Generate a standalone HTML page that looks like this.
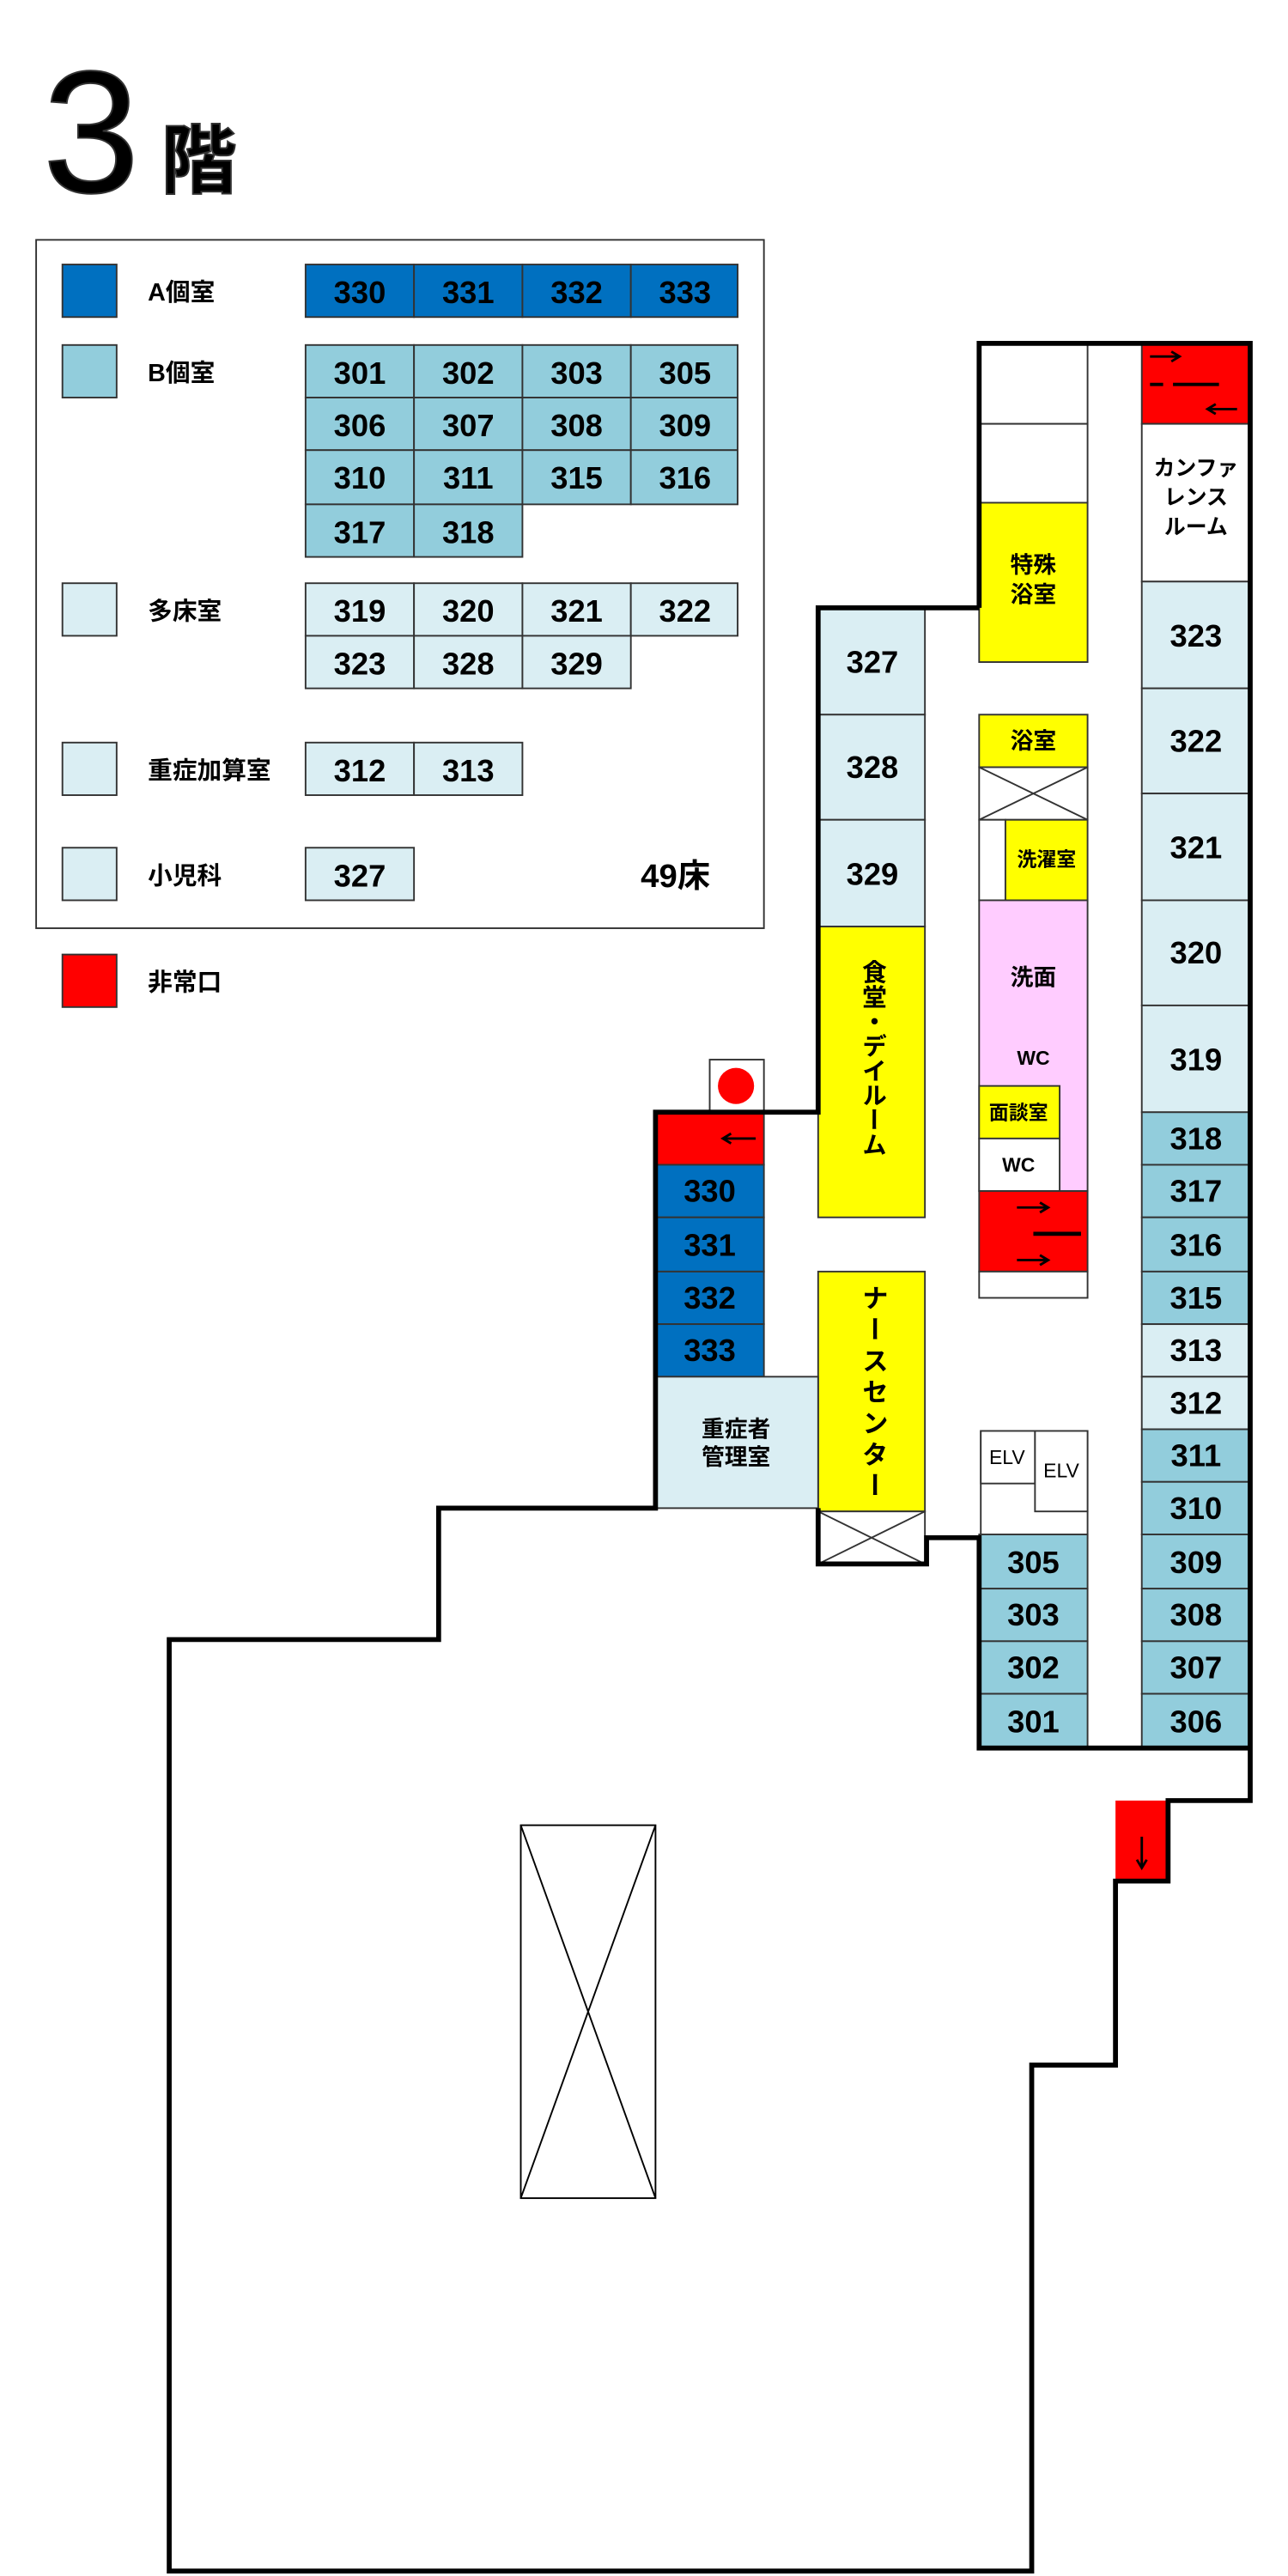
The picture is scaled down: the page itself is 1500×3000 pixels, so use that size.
<!DOCTYPE html>
<html><head><meta charset="utf-8"><style>
html,body{margin:0;padding:0;background:#fff}
svg{display:block}
text{font-family:"Liberation Sans","Noto Sans CJK JP",sans-serif;font-weight:bold;fill:#000}
.n{font-size:19px;text-anchor:middle;dominant-baseline:central}
.j{font-size:14px;text-anchor:middle;dominant-baseline:central}
.v{font-size:15px;writing-mode:vertical-rl;text-anchor:start}
</style></head><body>
<svg width="1500" height="3000" viewBox="0 0 784 1568" xmlns="http://www.w3.org/2000/svg">
<g stroke="#333" stroke-width="1">
<!-- Title -->
<text x="26" y="117" style="font-size:106px;font-weight:normal">3</text>
<text x="98" y="114" style="font-size:46px">階</text>

<!-- Legend -->
<rect x="22" y="146" width="443" height="419" fill="#fff"/>
<rect x="38" y="161" width="33" height="32" fill="#0070c0"/>
<rect x="38" y="210" width="33" height="32" fill="#92cddc"/>
<rect x="38" y="355" width="33" height="32" fill="#daeef3"/>
<rect x="38" y="452" width="33" height="32" fill="#daeef3"/>
<rect x="38" y="516" width="33" height="32" fill="#daeef3"/>
<rect x="38" y="581" width="33" height="32" fill="#ff0000"/>
</g>
<g class="lab" style="font-size:15px">
<text x="90" y="183" style="font-size:15px">A個室</text>
<text x="90" y="232" style="font-size:15px">B個室</text>
<text x="90" y="377" style="font-size:15px">多床室</text>
<text x="90" y="474" style="font-size:15px">重症加算室</text>
<text x="90" y="538" style="font-size:15px">小児科</text>
<text x="90" y="603" style="font-size:15px">非常口</text>
<text x="390" y="540" style="font-size:20px">49床</text>
</g>
<g stroke="#333" stroke-width="1">
<rect x="186" y="161" width="66" height="32" fill="#0070c0"/><rect x="252" y="161" width="66" height="32" fill="#0070c0"/><rect x="318" y="161" width="66" height="32" fill="#0070c0"/><rect x="384" y="161" width="65" height="32" fill="#0070c0"/>
<rect x="186" y="210" width="66" height="32" fill="#92cddc"/><rect x="252" y="210" width="66" height="32" fill="#92cddc"/><rect x="318" y="210" width="66" height="32" fill="#92cddc"/><rect x="384" y="210" width="65" height="32" fill="#92cddc"/>
<rect x="186" y="242" width="66" height="32" fill="#92cddc"/><rect x="252" y="242" width="66" height="32" fill="#92cddc"/><rect x="318" y="242" width="66" height="32" fill="#92cddc"/><rect x="384" y="242" width="65" height="32" fill="#92cddc"/>
<rect x="186" y="274" width="66" height="33" fill="#92cddc"/><rect x="252" y="274" width="66" height="33" fill="#92cddc"/><rect x="318" y="274" width="66" height="33" fill="#92cddc"/><rect x="384" y="274" width="65" height="33" fill="#92cddc"/>
<rect x="186" y="307" width="66" height="32" fill="#92cddc"/><rect x="252" y="307" width="66" height="32" fill="#92cddc"/>
<rect x="186" y="355" width="66" height="32" fill="#daeef3"/><rect x="252" y="355" width="66" height="32" fill="#daeef3"/><rect x="318" y="355" width="66" height="32" fill="#daeef3"/><rect x="384" y="355" width="65" height="32" fill="#daeef3"/>
<rect x="186" y="387" width="66" height="32" fill="#daeef3"/><rect x="252" y="387" width="66" height="32" fill="#daeef3"/><rect x="318" y="387" width="66" height="32" fill="#daeef3"/>
<rect x="186" y="452" width="66" height="32" fill="#daeef3"/><rect x="252" y="452" width="66" height="32" fill="#daeef3"/>
<rect x="186" y="516" width="66" height="32" fill="#daeef3"/>
</g>
<g>
<text class="n" x="219" y="178">330</text><text class="n" x="285" y="178">331</text><text class="n" x="351" y="178">332</text><text class="n" x="417" y="178">333</text>
<text class="n" x="219" y="227">301</text><text class="n" x="285" y="227">302</text><text class="n" x="351" y="227">303</text><text class="n" x="417" y="227">305</text>
<text class="n" x="219" y="259">306</text><text class="n" x="285" y="259">307</text><text class="n" x="351" y="259">308</text><text class="n" x="417" y="259">309</text>
<text class="n" x="219" y="291">310</text><text class="n" x="285" y="291">311</text><text class="n" x="351" y="291">315</text><text class="n" x="417" y="291">316</text>
<text class="n" x="219" y="324">317</text><text class="n" x="285" y="324">318</text>
<text class="n" x="219" y="372">319</text><text class="n" x="285" y="372">320</text><text class="n" x="351" y="372">321</text><text class="n" x="417" y="372">322</text>
<text class="n" x="219" y="404">323</text><text class="n" x="285" y="404">328</text><text class="n" x="351" y="404">329</text>
<text class="n" x="219" y="469">312</text><text class="n" x="285" y="469">313</text>
<text class="n" x="219" y="533">327</text>
</g>

<!-- Plan rooms -->
<g stroke="#333" stroke-width="1">
<!-- right column -->
<rect x="695" y="209" width="65" height="49" fill="#ff0000"/>
<rect x="695" y="258" width="65" height="96" fill="#fff"/>
<rect x="695" y="354" width="65" height="65" fill="#daeef3"/>
<rect x="695" y="419" width="65" height="64" fill="#daeef3"/>
<rect x="695" y="483" width="65" height="65" fill="#daeef3"/>
<rect x="695" y="548" width="65" height="64" fill="#daeef3"/>
<rect x="695" y="612" width="65" height="65" fill="#daeef3"/>
<rect x="695" y="677" width="65" height="32" fill="#92cddc"/>
<rect x="695" y="709" width="65" height="32" fill="#92cddc"/>
<rect x="695" y="741" width="65" height="33" fill="#92cddc"/>
<rect x="695" y="774" width="65" height="32" fill="#92cddc"/>
<rect x="695" y="806" width="65" height="32" fill="#daeef3"/>
<rect x="695" y="838" width="65" height="32" fill="#daeef3"/>
<rect x="695" y="870" width="65" height="32" fill="#92cddc"/>
<rect x="695" y="902" width="65" height="32" fill="#92cddc"/>
<rect x="695" y="934" width="65" height="33" fill="#92cddc"/>
<rect x="695" y="967" width="65" height="32" fill="#92cddc"/>
<rect x="695" y="999" width="65" height="32" fill="#92cddc"/>
<rect x="695" y="1031" width="65" height="33" fill="#92cddc"/>
<!-- second column -->
<rect x="596" y="209" width="66" height="49" fill="#fff"/>
<rect x="596" y="258" width="66" height="48" fill="#fff"/>
<rect x="596" y="306" width="66" height="97" fill="#ffff00"/>
<rect x="596" y="435" width="66" height="32" fill="#ffff00"/>
<rect x="596" y="467" width="66" height="32" fill="#fff"/>
<line x1="596" y1="467" x2="662" y2="499"/><line x1="662" y1="467" x2="596" y2="499"/>
<rect x="596" y="499" width="16" height="49" fill="#fff"/>
<rect x="612" y="499" width="50" height="49" fill="#ffff00"/>
<rect x="596" y="548" width="66" height="177" fill="#ffccff"/>
<rect x="596" y="661" width="49" height="32" fill="#ffff00"/>
<rect x="596" y="693" width="49" height="32" fill="#fff"/>
<rect x="596" y="725" width="66" height="49" fill="#ff0000"/>
<rect x="596" y="774" width="66" height="16" fill="#fff"/>
<rect x="597" y="871" width="65" height="65" fill="#fff"/>
<rect x="597" y="871" width="33" height="32" fill="#fff"/>
<rect x="630" y="871" width="32" height="49" fill="#fff"/>
<rect x="596" y="934" width="66" height="33" fill="#92cddc"/>
<rect x="596" y="967" width="66" height="32" fill="#92cddc"/>
<rect x="596" y="999" width="66" height="32" fill="#92cddc"/>
<rect x="596" y="1031" width="66" height="33" fill="#92cddc"/>
<!-- middle column -->
<rect x="498" y="370" width="65" height="65" fill="#daeef3"/>
<rect x="498" y="435" width="65" height="64" fill="#daeef3"/>
<rect x="498" y="499" width="65" height="65" fill="#daeef3"/>
<rect x="498" y="564" width="65" height="177" fill="#ffff00"/>
<rect x="498" y="774" width="65" height="146" fill="#ffff00"/>
<rect x="498" y="920" width="65" height="32" fill="#fff"/>
<line x1="498" y1="920" x2="563" y2="952"/><line x1="563" y1="920" x2="498" y2="952"/>
<!-- left wing -->
<rect x="432" y="645" width="33" height="32" fill="#fff"/>
<circle cx="448" cy="661" r="11" fill="#ff0000" stroke="none"/>
<rect x="399" y="677" width="66" height="32" fill="#ff0000"/>
<rect x="399" y="709" width="66" height="32" fill="#0070c0"/>
<rect x="399" y="741" width="66" height="33" fill="#0070c0"/>
<rect x="399" y="774" width="66" height="32" fill="#0070c0"/>
<rect x="399" y="806" width="66" height="32" fill="#0070c0"/>
<rect x="399" y="838" width="99" height="80" fill="#daeef3"/>
<!-- big void -->
<rect x="317" y="1111" width="82" height="227" fill="#fff" stroke="#000"/>
<line x1="317" y1="1111" x2="399" y2="1338" stroke="#000"/><line x1="399" y1="1111" x2="317" y2="1338" stroke="#000"/>
<!-- down exit -->
<rect x="679" y="1096" width="32" height="49" fill="#ff0000" stroke="none"/>
</g>

<!-- Walls -->
<g fill="none" stroke="#000" stroke-width="3" stroke-linejoin="miter">
<polyline points="596,370 596,209 761,209 761,1096 711,1096 711,1145 679,1145 679,1257 628,1257 628,1565 103,1565 103,998 267,998 267,918 399,918 399,677 498,677 498,370 596,370"/>
<polyline points="498,918 498,952 564,952 564,936 596,936 596,1064 761,1064"/>
</g>

<!-- Arrows -->
<g stroke="#000" stroke-width="1.5" fill="none">
<line x1="700" y1="217" x2="718" y2="217"/><polyline points="713,214 718,217 713,220"/>
<line x1="700" y1="234" x2="708" y2="234" stroke-width="2"/><line x1="714" y1="234" x2="742" y2="234" stroke-width="2"/>
<line x1="735" y1="249" x2="753" y2="249"/><polyline points="740,246 735,249 740,252"/>
<line x1="619" y1="735" x2="638" y2="735"/><polyline points="633,732 638,735 633,738"/>
<line x1="629" y1="751" x2="658" y2="751" stroke-width="2.5"/>
<line x1="619" y1="767" x2="638" y2="767"/><polyline points="633,764 638,767 633,770"/>
<line x1="440" y1="693" x2="460" y2="693"/><polyline points="445,690 440,693 445,696"/>
<line x1="695" y1="1118" x2="695" y2="1137"/><polyline points="692,1132 695,1137 698,1132"/>
</g>

<!-- Plan labels -->
<g>
<text class="n" x="728" y="387">323</text><text class="n" x="728" y="451">322</text><text class="n" x="728" y="516">321</text><text class="n" x="728" y="580">320</text><text class="n" x="728" y="645">319</text>
<text class="n" x="728" y="693">318</text><text class="n" x="728" y="725">317</text><text class="n" x="728" y="758">316</text><text class="n" x="728" y="790">315</text><text class="n" x="728" y="822">313</text><text class="n" x="728" y="854">312</text><text class="n" x="728" y="886">311</text><text class="n" x="728" y="918">310</text><text class="n" x="728" y="951">309</text><text class="n" x="728" y="983">308</text><text class="n" x="728" y="1015">307</text><text class="n" x="728" y="1048">306</text>
<text class="n" x="629" y="951">305</text><text class="n" x="629" y="983">303</text><text class="n" x="629" y="1015">302</text><text class="n" x="629" y="1048">301</text>
<text class="n" x="531" y="403">327</text><text class="n" x="531" y="467">328</text><text class="n" x="531" y="532">329</text>
<text class="n" x="432" y="725">330</text><text class="n" x="432" y="758">331</text><text class="n" x="432" y="790">332</text><text class="n" x="432" y="822">333</text>
<text class="j" x="728" y="285" style="font-size:13px">カンファ</text>
<text class="j" x="728" y="303" style="font-size:13px">レンス</text>
<text class="j" x="728" y="321" style="font-size:13px">ルーム</text>
<text class="j" x="629" y="344">特殊</text><text class="j" x="629" y="362">浴室</text>
<text class="j" x="629" y="451">浴室</text>
<text class="j" x="637" y="523" style="font-size:12px">洗濯室</text>
<text class="j" x="629" y="595">洗面</text>
<text class="j" x="629" y="644" style="font-size:12px">WC</text>
<text class="j" x="620" y="677" style="font-size:12px">面談室</text>
<text class="j" x="620" y="709" style="font-size:12px">WC</text>
<text class="j" x="613" y="887" style="font-size:12px;font-weight:normal">ELV</text>
<text class="j" x="646" y="895" style="font-size:12px;font-weight:normal">ELV</text>
<text class="j" x="448" y="870">重症者</text><text class="j" x="448" y="887">管理室</text>
<text class="v" x="531" y="584">食堂・デイルーム</text>
<text class="v" x="531" y="782" style="font-size:16px;letter-spacing:3px">ナースセンター</text>
</g>
</svg>
</body></html>
